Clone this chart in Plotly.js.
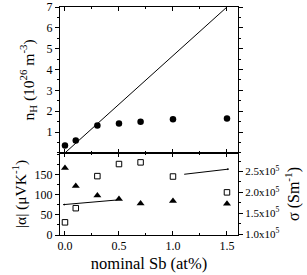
<!DOCTYPE html>
<html><head><meta charset="utf-8">
<script src="https://cdn.plot.ly/plotly-3.0.1.min.js"></script>
<style>body{margin:0;padding:0;background:#fff}#chart{width:307px;height:275px}</style>
</head><body><div id="chart"></div>
<script>
const sb = [0, 0.1, 0.3, 0.5, 0.7, 1.0, 1.5];
const nH = [0.35, 0.59, 1.31, 1.41, 1.49, 1.62, 1.65];
const fitX = [0, 1.5];
const fitY = [0, 7];
const alpha = [166, 121, 98, 89, 78, 84, 77];
const sigma = [1.28e5, 1.62e5, 2.39e5, 2.68e5, 2.72e5, 2.38e5, 2.0e5];
const arrowAlpha = {from: [0.5, 87], to: [-0.02, 75]};
const arrowSigma = {from: [1.09, 2.43e5], to: [1.52, 2.56e5]};
const sigmaTicks = [1.0e5, 1.5e5, 2.0e5, 2.5e5];
const sigmaTickText = ['1.0x10<sup>5</sup>', '1.5x10<sup>5</sup>', '2.0x10<sup>5</sup>', '2.5x10<sup>5</sup>'];

const fam = 'Liberation Serif';
const f = (s) => ({family: fam, size: s, color: '#000'});
const traces = [
  {x: sb, y: nH, xaxis: 'x2', yaxis: 'y2', mode: 'markers', type: 'scatter',
   marker: {symbol: 'circle', size: 6.5, color: '#000'}},
  {x: fitX, y: fitY, xaxis: 'x2', yaxis: 'y2', mode: 'lines', type: 'scatter',
   line: {color: '#000', width: 1}},
  {x: sb, y: alpha, xaxis: 'x', yaxis: 'y', mode: 'markers', type: 'scatter',
   marker: {symbol: 'triangle-up', size: 7, color: '#000'}},
  {x: sb, y: sigma, xaxis: 'x', yaxis: 'y3', mode: 'markers', type: 'scatter',
   marker: {symbol: 'square-open', size: 5.5, color: '#000', line: {width: 1}}}
];
const xr = [-0.046, 1.602];
const axisCommon = {showgrid: false, zeroline: false, showline: true, linecolor: '#000', linewidth: 1,
  tickcolor: '#000', ticklen: 4, tickfont: f(12)};
const layout = {
  width: 307, height: 275, showlegend: false,
  margin: {l: 60, r: 69, t: 7, b: 40},
  paper_bgcolor: '#fff', plot_bgcolor: '#fff',
  font: f(12),
  xaxis: Object.assign({}, axisCommon, {domain: [0, 1], anchor: 'y', range: xr,
    tickvals: [0, 0.5, 1.0, 1.5], ticktext: ['0.0', '0.5', '1.0', '1.5'],
    ticks: 'inside', mirror: 'ticks', minor: {ticks: 'inside', ticklen: 2, dtick: 0.25, tick0: 0, tickcolor: '#000'},
    title: {text: 'nominal Sb (at%)', font: f(16.5), standoff: 5}}),
  xaxis2: Object.assign({}, axisCommon, {domain: [0, 1], anchor: 'y2', range: xr, matches: 'x',
    tickvals: [0, 0.5, 1.0, 1.5], showticklabels: false,
    ticks: 'inside', mirror: 'ticks', minor: {ticks: 'inside', ticklen: 2, dtick: 0.25, tick0: 0, tickcolor: '#000'}}),
  yaxis: Object.assign({}, axisCommon, {domain: [0, 0.36], anchor: 'x', range: [0, 203],
    tickvals: [0, 50, 100, 150], ticks: 'outside', ticklen: 4,
    minor: {ticks: 'outside', ticklen: 2, dtick: 25, tick0: 0, tickcolor: '#000'},
    title: {text: '|α| (μVK<sup>-1</sup>)', font: f(15.5), standoff: 4}}),
  yaxis2: Object.assign({}, axisCommon, {domain: [0.36, 1], anchor: 'x2', range: [0, 7],
    tickvals: [1, 2, 3, 4, 5, 6, 7], ticks: 'outside', mirror: 'ticks',
    minor: {ticks: 'outside', ticklen: 2, dtick: 0.5, tick0: 0, tickcolor: '#000'},
    title: {text: 'n<sub>H</sub> (10<sup>26</sup> m<sup>-3</sup>)', font: f(15.5), standoff: 8}}),
  yaxis3: Object.assign({}, axisCommon, {overlaying: 'y', side: 'right', anchor: 'x', range: [0.976e5, 2.947e5],
    tickvals: sigmaTicks, ticktext: sigmaTickText, ticks: 'outside', ticklen: 4,
    tickfont: f(11),
    minor: {ticks: 'outside', ticklen: 2, dtick: 0.25e5, tick0: 0, tickcolor: '#000'},
    title: {text: 'σ (Sm<sup>-1</sup>)', font: f(16), standoff: 9}}),
  annotations: [
    {xref: 'x', yref: 'y', axref: 'x', ayref: 'y', x: arrowAlpha.to[0], y: arrowAlpha.to[1],
     ax: arrowAlpha.from[0], ay: arrowAlpha.from[1], text: '', showarrow: true,
     arrowhead: 2, arrowsize: 0.4, arrowwidth: 1, arrowcolor: '#000'},
    {xref: 'x', yref: 'y3', axref: 'x', ayref: 'y3', x: arrowSigma.to[0], y: arrowSigma.to[1],
     ax: arrowSigma.from[0], ay: arrowSigma.from[1], text: '', showarrow: true,
     arrowhead: 2, arrowsize: 0.4, arrowwidth: 1, arrowcolor: '#000'}
  ]
};
Plotly.newPlot('chart', traces, layout, {displayModeBar: false, staticPlot: true});
</script></body></html>
